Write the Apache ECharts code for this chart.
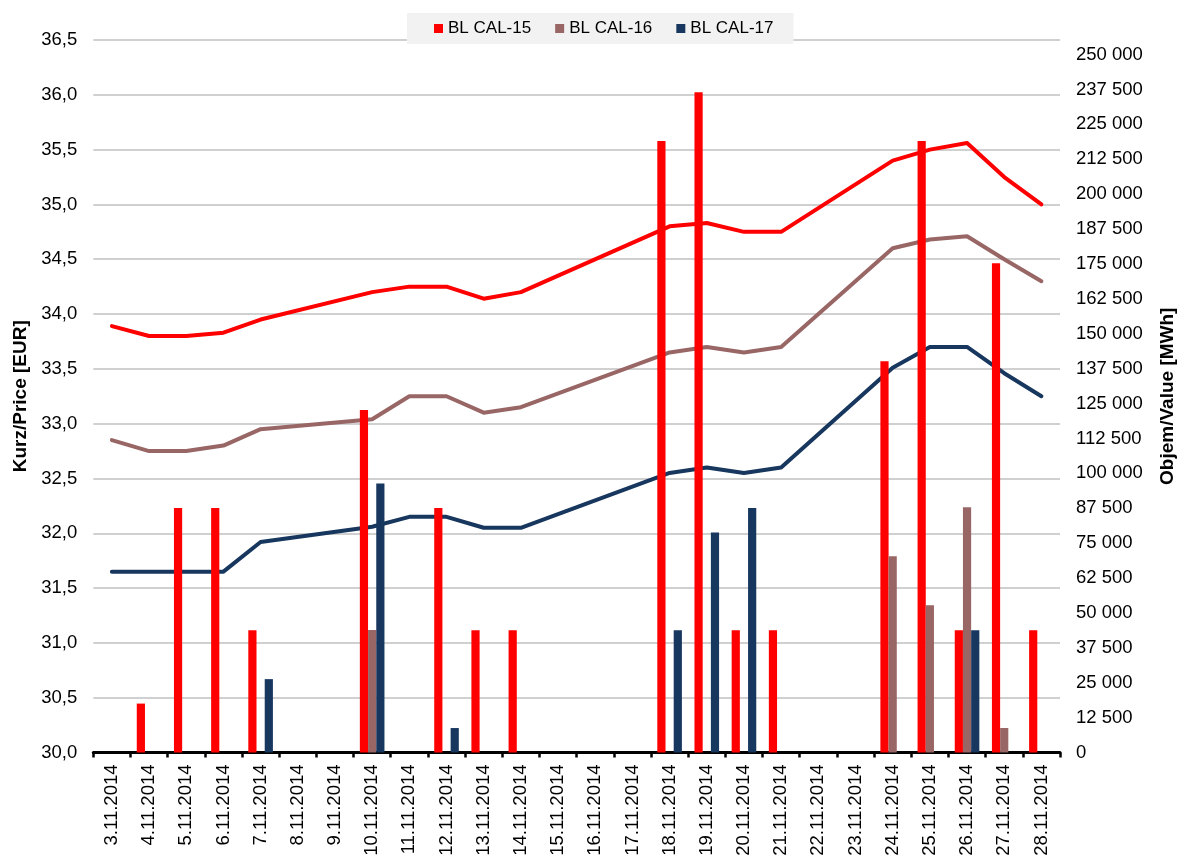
<!DOCTYPE html>
<html>
<head>
<meta charset="utf-8">
<script src="https://cdn.jsdelivr.net/npm/echarts@6/dist/echarts.min.js"></script>
<style>
html,body{margin:0;padding:0;background:#fff;}
#chart{width:1179px;height:859px;}
</style>
</head>
<body>
<div id="chart"></div>
<script>
var categories = ['3.11.2014','4.11.2014','5.11.2014','6.11.2014','7.11.2014','8.11.2014','9.11.2014','10.11.2014','11.11.2014','12.11.2014','13.11.2014','14.11.2014','15.11.2014','16.11.2014','17.11.2014','18.11.2014','19.11.2014','20.11.2014','21.11.2014','22.11.2014','23.11.2014','24.11.2014','25.11.2014','26.11.2014','27.11.2014','28.11.2014'];
var seriesNames = ['BL CAL-15','BL CAL-16','BL CAL-17'];
var seriesColors = ['#FF0000','#996666','#17375E'];

var cal15Price = [33.89,33.80,33.80,33.83,33.95,null,null,34.20,34.25,34.25,34.14,34.20,null,null,null,34.80,34.83,34.75,34.75,null,null,35.40,35.50,35.56,35.25,35.00];
var cal16Price = [32.85,32.75,32.75,32.80,32.95,null,null,33.04,33.25,33.25,33.10,33.15,null,null,null,33.65,33.70,33.65,33.70,null,null,34.60,34.68,34.71,34.50,34.30];
var cal17Price = [31.65,31.65,31.65,31.65,31.92,null,null,32.06,32.15,32.15,32.05,32.05,null,null,null,32.55,32.60,32.55,32.60,null,null,33.51,33.70,33.70,33.46,33.25];

var cal15Volume = [null,17520,87600,87600,43800,null,null,122640,null,87600,43800,43800,null,null,null,219000,236520,43800,43800,null,null,140160,219000,43800,175200,43800];
var cal16Volume = [null,null,null,null,null,null,null,43920,null,null,null,null,null,null,null,null,null,null,null,null,null,70272,52704,87840,8784,null];
var cal17Volume = [null,null,null,null,26280,null,null,96360,null,8760,null,null,null,null,null,43800,78840,87600,null,null,null,null,null,43800,null,null];

var priceTicks = {min: 30, max: 36.5, interval: 0.5};
var volumeTicks = {min: 0, max: 255200, interval: 12500};

var FONT = 'Liberation Sans, Arial, sans-serif';
var chart = echarts.init(document.getElementById('chart'), null, {renderer: 'canvas'});

var prices = [cal15Price, cal16Price, cal17Price];
var volumes = [cal15Volume, cal16Volume, cal17Volume];
var series = [];
for (var i = 0; i < 3; i++) {
  series.push({
    name: seriesNames[i], type: 'line', yAxisIndex: 0, data: prices[i],
    connectNulls: true, showSymbol: false, symbol: 'none', z: 2,
    lineStyle: {color: seriesColors[i], width: 4, cap: 'round', join: 'round'},
    itemStyle: {color: seriesColors[i]}
  });
}
for (var j = 0; j < 3; j++) {
  series.push({
    name: seriesNames[j], type: 'bar', yAxisIndex: 1, data: volumes[j],
    barWidth: 8.2, barGap: '0%', z: 3,
    itemStyle: {color: seriesColors[j]}
  });
}

var option = {
  animation: false,
  textStyle: {fontFamily: FONT},
  legend: {
    data: seriesNames.map(function (n) { return {name: n, icon: 'rect'}; }),
    left: 407, top: 13,
    itemWidth: 9, itemHeight: 9, itemGap: 24,
    padding: [7, 20, 7, 27],
    backgroundColor: '#F2F2F2',
    textStyle: {fontSize: 17, color: '#000', fontFamily: FONT}
  },
  grid: {left: 93.3, right: 119, top: 40, bottom: 106.5, containLabel: false, outerBoundsMode: 'none'},
  xAxis: {
    type: 'category', data: categories, boundaryGap: true,
    axisLine: {show: true, lineStyle: {color: '#000', width: 3}},
    axisTick: {show: true, length: 5, lineStyle: {color: '#000', width: 2.5}, interval: 0},
    axisLabel: {rotate: 90, interval: 0, fontSize: 18.5, color: '#000', margin: 12, fontFamily: FONT},
    splitLine: {show: false}
  },
  yAxis: [
    {
      type: 'value', position: 'left', min: priceTicks.min, max: priceTicks.max, interval: priceTicks.interval,
      name: 'Kurz/Price [EUR]', nameLocation: 'middle', nameRotate: 90, nameGap: 63,
      nameTextStyle: {fontSize: 19, fontWeight: 'bold', color: '#000', fontFamily: FONT},
      axisLine: {show: false}, axisTick: {show: false},
      axisLabel: {fontSize: 18.5, color: '#000', margin: 16, fontFamily: FONT,
        formatter: function (v) { return v.toFixed(1).replace('.', ','); }},
      splitLine: {show: true, lineStyle: {color: '#C0C0C0', width: 1.5}}
    },
    {
      type: 'value', position: 'right', min: volumeTicks.min, max: volumeTicks.max, interval: volumeTicks.interval,
      name: 'Objem/Value [MWh]', nameLocation: 'middle', nameRotate: 90, nameGap: 98,
      nameTextStyle: {fontSize: 19, fontWeight: 'bold', color: '#000', fontFamily: FONT},
      axisLine: {show: false}, axisTick: {show: false},
      axisLabel: {fontSize: 18.5, color: '#000', margin: 16, fontFamily: FONT,
        formatter: function (v) {
          if (Math.abs(v % volumeTicks.interval) > 1e-6) return '';
          return String(Math.round(v)).replace(/\B(?=(\d{3})+(?!\d))/g, ' ');
        }},
      splitLine: {show: false}
    }
  ],
  series: series
};
chart.setOption(option);
</script>
</body>
</html>
